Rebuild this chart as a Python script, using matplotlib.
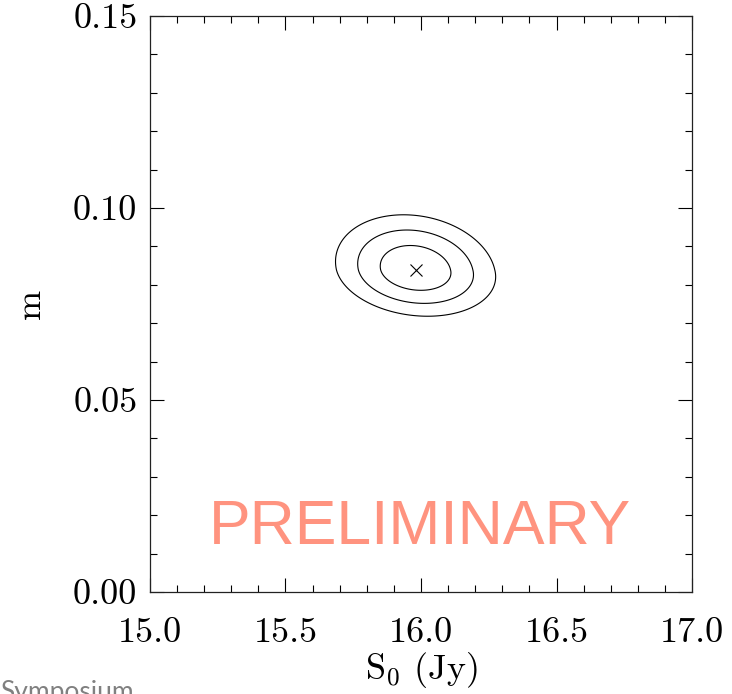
import numpy as np
import matplotlib
matplotlib.use("Agg")
import matplotlib.pyplot as plt
from matplotlib.ticker import FormatStrFormatter, MultipleLocator

plt.rcParams["font.family"] = "serif"
plt.rcParams["font.serif"] = ["cmr10"]
plt.rcParams["mathtext.fontset"] = "cm"
plt.rcParams["axes.formatter.use_mathtext"] = True

# best fit and (asymmetric) 1-sigma errors of the flux / modulation fit
S0_BEST = 15.98
M_BEST = 0.0839
S0_ERR = 0.086
M_ERR_UP = 0.00417
M_ERR_DOWN = 0.00352
RHO = -0.15

# delta chi^2 for 68.3%, 95.4%, 99.73% with two free parameters
DCHI2_LEVELS = [2.30, 6.17, 11.8]

X_RANGE = (15.0, 17.0)
Y_RANGE = (0.0, 0.15)
X_TICKS = [15.0, 15.5, 16.0, 16.5, 17.0]
Y_TICKS = [0.00, 0.05, 0.10, 0.15]


def chi2_surface(s0, m):
    dx = (s0 - S0_BEST) / S0_ERR
    m_err = np.where(m > M_BEST, M_ERR_UP, M_ERR_DOWN)
    dy = (m - M_BEST) / m_err
    return (dx**2 - 2 * RHO * dx * dy + dy**2) / (1 - RHO**2)


def main():
    fig = plt.figure(figsize=(7.32, 6.94), dpi=100)
    ax = fig.add_axes([0.2049, 0.147, 0.7405, 0.830])

    s0 = np.linspace(X_RANGE[0], X_RANGE[1], 801)
    m = np.linspace(Y_RANGE[0], Y_RANGE[1], 1201)
    S, M = np.meshgrid(s0, m)
    ax.contour(S, M, chi2_surface(S, M), levels=DCHI2_LEVELS,
               colors="black", linewidths=0.8)
    ax.plot([S0_BEST], [M_BEST], marker="x", color="black",
            markersize=8, markeredgewidth=0.8, linestyle="none")

    ax.set_xlim(*X_RANGE)
    ax.set_ylim(*Y_RANGE)
    ax.set_xticks(X_TICKS)
    ax.set_yticks(Y_TICKS)
    ax.xaxis.set_minor_locator(MultipleLocator(0.1))
    ax.yaxis.set_minor_locator(MultipleLocator(0.01))
    ax.xaxis.set_major_formatter(FormatStrFormatter("%.1f"))
    ax.yaxis.set_major_formatter(FormatStrFormatter("%.2f"))

    ax.tick_params(which="both", direction="in", top=True, right=True,
                   width=0.8, colors="black", labelsize=26)
    ax.tick_params(which="major", length=10)
    ax.tick_params(which="minor", length=5)
    ax.tick_params(axis="x", pad=18)
    ax.tick_params(axis="y", pad=9)
    for spine in ax.spines.values():
        spine.set_linewidth(0.9)
        spine.set_color("#222222")

    ax.set_xlabel(r"S$_0$ (Jy)", fontsize=26)
    ax.set_ylabel("m", fontsize=26)
    ax.xaxis.set_label_coords(0.5, -0.10)
    ax.yaxis.set_label_coords(-0.19, 0.5)

    ax.text(0.499, 0.083, "PRELIMINARY", transform=ax.transAxes,
            ha="center", va="baseline", color="#ff937f",
            fontsize=45, family="Liberation Sans")

    # footer of the slide, running off the bottom edge
    fig.text(0.0, -0.008, "Symposium", ha="left", va="baseline",
             color="#808080", fontsize=19, family="Lato")

    fig.savefig("out.png", dpi=100)
    plt.close(fig)


if __name__ == "__main__":
    main()
